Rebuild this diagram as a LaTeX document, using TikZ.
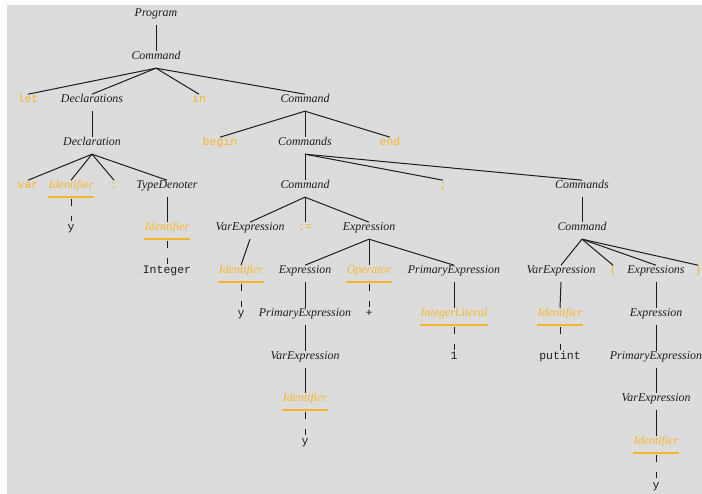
\documentclass[tikz,border=0pt]{standalone}
\usepackage{fontspec}
\setmainfont{Liberation Serif}
\setmonofont{Liberation Mono}
\usetikzlibrary{positioning}
\definecolor{Amber}{HTML}{F5B52A}
\definecolor{Ink}{HTML}{1C1C1C}
\definecolor{Paper}{HTML}{DCDCDC}

\begin{document}
\begin{tikzpicture}[x=1pt, y=-1pt, line width=1pt,
    base/.style={anchor=base, inner xsep=0.5pt, inner ysep=0pt,
                 text height=8.3pt, text depth=7.7pt},
    nt/.style={base, text=Ink, font=\fontsize{11.9}{13}\selectfont\itshape},
    tok/.style={nt, text=Amber, append after command={
        (\tikzlastnode.south west) edge[draw=Amber, line width=1.5pt]
        (\tikzlastnode.south east)}},
    kw/.style={base, text=Amber, font=\fontsize{11.5}{13}\selectfont\ttfamily},
    lex/.style={kw, text=Ink},
    lexeme/.style={dash pattern=on 7pt off 10pt,
                   shorten <=1.5pt, shorten >=1pt}]
  \useasboundingbox (0,0) rectangle (702,494);
  \fill[white] (0,0) rectangle (702,494);
  \fill[Paper] (7,5) rectangle (702,494);

  % program and declarations
  \node[nt] (prog) at (156,17) {Program};
  \node[nt] (cmd) at (156,60) {Command};
  \node[kw] (let) at (28,103) {let};
  \node[nt] (decls) at (92,103) {Declarations};
  \node[kw] (in) at (199,103) {in};
  \node[nt] (body) at (305,103) {Command};
  \node[nt] (decl) at (92,146) {Declaration};
  \node[kw] (begin) at (220,146) {begin};
  \node[nt] (cmds) at (305,146) {Commands};
  \node[kw] (end) at (390,146) {end};
  \node[kw] (var) at (28,189) {var};
  \node[tok] (declId) at (71,189) {Identifier};
  \node[kw] (colon) at (114,189) {:};
  \node[nt] (tyDen) at (167,189) {TypeDenoter};
  \node[lex] (declY) at (71,231) {y};
  \node[tok] (tyId) at (167,231) {Identifier};
  \node[lex] (tyInt) at (167,274) {Integer};

  % assignment
  \node[nt] (assign) at (305,189) {Command};
  \node[kw] (semi) at (443,189) {;};
  \node[nt] (lhs) at (250,231) {VarExpression};
  \node[kw] (becomes) at (305,231) {:=};
  \node[nt] (rhs) at (369,231) {Expression};
  \node[tok] (lhsId) at (241,274) {Identifier};
  \node[nt] (left) at (305,274) {Expression};
  \node[tok] (op) at (369,274) {Operator};
  \node[nt] (right) at (454,274) {PrimaryExpression};
  \node[lex] (lhsY) at (241,317) {y};
  \node[nt] (leftPrim) at (305,317) {PrimaryExpression};
  \node[lex] (plus) at (369,317) {+};
  \node[tok] (lit) at (454,317) {IntegerLiteral};
  \node[nt] (leftVar) at (305,360) {VarExpression};
  \node[lex] (one) at (454,360) {1};
  \node[tok] (leftId) at (305,402) {Identifier};
  \node[lex] (leftY) at (305,445) {y};

  % call
  \node[nt] (cmdsTail) at (582,189) {Commands};
  \node[nt] (call) at (582,231) {Command};
  \node[nt] (callee) at (561,274) {VarExpression};
  \node[kw] (lpar) at (613,274) {(};
  \node[nt] (args) at (656,274) {Expressions};
  \node[kw] (rpar) at (698,274) {)};
  \node[tok] (calleeId) at (560,317) {Identifier};
  \node[nt] (arg) at (656,317) {Expression};
  \node[lex] (putint) at (560,360) {putint};
  \node[nt] (argPrim) at (656,360) {PrimaryExpression};
  \node[nt] (argVar) at (656,402) {VarExpression};
  \node[tok] (argId) at (656,445) {Identifier};
  \node[lex] (argY) at (656,488) {y};

  \foreach \a/\b in {prog/cmd, cmd/let, cmd/decls, cmd/in, cmd/body,
      decls/decl, body/begin, body/cmds, body/end,
      decl/var, decl/declId, decl/colon, decl/tyDen, tyDen/tyId,
      cmds/assign, cmds/semi, cmds/cmdsTail,
      assign/lhs, assign/becomes, assign/rhs, lhs/lhsId,
      rhs/left, rhs/op, rhs/right, right/lit,
      left/leftPrim, leftPrim/leftVar, leftVar/leftId,
      cmdsTail/call, call/callee, call/lpar, call/args, call/rpar,
      callee/calleeId, args/arg, arg/argPrim, argPrim/argVar, argVar/argId}
    \draw[Ink] (\a.south) -- (\b.north);
  \foreach \a/\b in {declId/declY, tyId/tyInt, lhsId/lhsY, op/plus,
      lit/one, leftId/leftY, calleeId/putint, argId/argY}
    \draw[Ink, lexeme] (\a.south) -- (\b.north);
\end{tikzpicture}
\end{document}
